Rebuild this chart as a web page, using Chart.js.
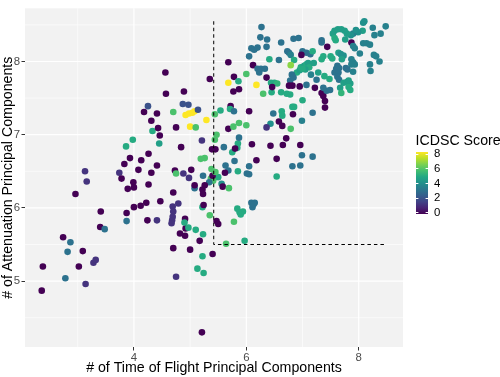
<!DOCTYPE html>
<html><head><meta charset="utf-8">
<script src="https://cdn.jsdelivr.net/npm/chart.js@4.4.1/dist/chart.umd.min.js"></script>
<style>html,body{margin:0;padding:0;background:#fff;overflow:hidden}</style>
</head><body>
<canvas id="c" width="500" height="377"></canvas>
<script>
// x: # of Time of Flight Principal Components
const tofPCs = [
 2.36,2.38,2.74,2.87,2.82,2.78,3.02,3.09,3.14,3.28,
 3.32,2.96,3.13,3.16,3.41,3.40,3.48,3.87,3.87,3.74,
 3.78,3.83,3.89,3.93,3.99,4.00,4.00,4.12,4.22,4.08,
 4.13,4.26,4.26,4.24,4.41,4.31,4.41,4.47,3.86,3.98,
 4.33,4.45,4.18,4.25,4.31,4.41,4.43,4.46,4.56,4.57,
 4.70,4.75,4.89,4.87,4.97,4.84,4.73,4.75,4.70,4.69,
 4.70,4.69,4.68,4.67,4.79,4.70,4.75,4.82,4.91,4.91,
 4.92,4.90,4.97,4.88,4.98,4.92,4.98,
 5.02,5.04,5.08,5.00,5.10,5.14,5.29,5.35,5.44,5.54,
 5.68,5.68,5.78,5.86,5.77,5.87,5.72,5.71,5.78,5.68,
 5.77,5.87,6.00,5.47,5.44,5.21,5.60,5.39,5.45,5.85,
 5.84,5.75,5.79,5.63,5.68,5.85,5.19,5.26,5.38,5.44,
 5.50,5.37,5.41,5.56,5.58,5.69,5.34,5.23,5.40,5.08,
 5.08,5.22,5.26,5.23,5.22,5.24,5.35,5.47,5.50,5.64,
 5.97,5.84,5.88,5.94,5.90,5.78,5.10,5.23,5.17,5.00,
 5.40,5.22,5.13,5.24,5.21,5.62,5.45,5.87,5.80,
 6.05,6.48,6.63,6.64,6.82,6.83,7.18,7.40,6.99,6.79,
 6.58,6.64,6.43,6.36,6.71,6.10,6.43,6.65,6.96,6.18,
 6.54,6.99,7.18,6.82,6.96,6.05,6.01,6.05,6.54,6.09,
 6.15,6.11,6.13,
 6.27,6.25,6.37,6.36,6.09,6.14,6.20,6.05,6.62,6.84,
 6.93,6.73,6.76,6.79,7.00,7.07,7.14,7.18,7.34,7.34,
 7.44,6.41,6.58,6.85,6.98,6.79,6.12,6.20,6.23,6.26,
 6.33,6.00,6.36,6.44,6.50,6.55,6.18,6.30,6.45,6.62,
 6.46,6.90,6.95,6.97,7.03,7.07,7.10,7.12,7.05,7.00,
 6.81,6.78,6.84,6.76,6.82,6.95,7.07,7.22,7.34,7.37,
 6.78,6.72,7.00,6.85,8.08,8.10,8.25,8.48,8.39,8.28,
 8.07,7.99,7.90,7.95,7.86,7.79,7.75,7.69,7.63,7.57,
 7.54,7.57,7.59,7.87,7.90,7.93,7.76,8.08,8.14,8.20,
 8.02,8.27,8.31,8.37,7.64,7.68,7.73,7.70,7.50,7.53,
 7.37,7.34,7.87,7.90,7.93,7.87,7.62,7.65,7.60,7.57,
 7.64,7.77,7.80,7.90,8.20,8.21,7.39,7.48,7.62,7.65,
 7.73,7.79,7.85,7.82,7.82,7.85,7.67,7.69,7.37,7.43,
 7.49,7.40,7.15,7.25,7.28,7.20
];
// y: # of Attenuation Principal Components
const attenuationPCs = [
 4.87,5.20,5.60,5.53,5.40,5.04,5.20,5.41,4.96,5.25,
 5.29,6.19,6.50,6.36,5.95,5.74,5.71,5.82,5.93,6.48,
 6.40,6.60,6.26,6.68,6.35,6.28,6.01,6.03,6.07,6.52,
 6.65,6.74,6.32,5.83,5.83,6.48,6.58,6.09,6.84,6.93,
 7.05,6.88,7.31,7.39,7.19,7.29,7.09,6.99,7.85,7.56,
 7.31,7.10,7.59,7.42,7.41,6.83,6.51,6.47,6.21,6.02,
 5.95,5.88,5.83,5.79,6.06,5.45,5.06,5.65,5.62,5.85,
 5.72,5.80,5.73,6.47,6.41,7.27,7.29,
 6.52,7.30,7.32,7.11,7.10,7.34,7.20,7.76,7.28,7.33,
 7.99,7.71,7.79,7.73,7.59,7.62,7.39,7.35,7.32,7.08,
 7.11,7.16,7.13,7.00,6.93,6.92,6.83,6.80,6.80,6.88,
 6.82,6.76,6.64,6.58,6.51,6.50,6.67,6.68,6.53,6.42,
 6.42,6.40,6.37,6.33,6.29,6.27,6.35,6.44,6.44,6.27,
 6.31,6.25,6.31,6.19,6.01,6.04,5.90,5.82,5.78,5.51,
 5.55,5.99,5.94,5.95,5.91,5.81,5.70,5.64,5.55,5.43,
 5.37,5.34,5.17,5.11,4.30,6.48,6.49,6.96,6.81,
 7.32,7.29,7.32,7.26,7.38,7.28,7.30,7.37,7.19,7.08,
 7.18,7.12,7.15,7.10,6.95,6.87,6.85,6.86,6.86,6.65,
 6.67,6.72,6.70,6.57,6.58,6.57,6.47,6.46,6.43,6.07,
 6.07,6.01,6.05,
 8.47,8.33,8.30,8.20,8.18,8.16,8.19,8.07,8.26,8.31,
 8.32,8.14,8.12,8.09,8.14,8.12,8.10,8.14,8.29,8.26,
 8.20,8.03,8.02,8.02,8.09,7.95,7.95,7.90,7.85,7.90,
 7.90,7.83,7.78,7.71,7.71,7.70,7.68,7.56,7.58,7.58,
 7.65,7.85,7.88,7.92,7.94,7.96,7.98,7.92,7.89,7.90,
 7.82,7.74,7.78,7.67,7.67,7.66,7.68,7.64,7.57,7.53,
 7.55,7.56,7.47,7.38,8.53,8.55,8.46,8.48,8.38,8.36,
 8.42,8.40,8.38,8.43,8.36,8.38,8.42,8.44,8.44,8.42,
 8.38,8.32,8.29,8.26,8.21,8.18,8.30,8.25,8.25,8.23,
 8.11,8.09,8.07,8.00,8.12,8.10,8.08,8.03,8.07,8.04,
 8.07,8.03,8.03,7.99,7.96,7.96,7.94,7.91,7.90,7.85,
 7.85,7.91,7.89,7.86,7.96,7.87,7.80,7.76,7.79,7.75,
 7.71,7.72,7.70,7.74,7.65,7.61,7.64,7.57,7.64,7.60,
 7.61,7.46,7.82,7.75,7.85,7.98
];
// colour: ICDSC Score
const icdscScores = [
 0,0,0,3,3,3,0,0,1.2,1.2,
 1.2,0,1.2,1.2,0,0,3,3,0,1.2,
 0,0,0,0,0,0,0,0,0,0,
 0,0,0,0,1.2,0,0,0,4.9,4.9,
 4.9,4.5,0,2,0,0,0,0,0,0,
 5.7,0,0,2,2,0,0,5.7,0,1.2,
 1.2,1.2,1.2,1.2,1.2,0,1.2,0,0,0,
 0,4.9,4.9,1.2,1.2,8,8,
 0,8,8,8,5.7,2,8,0,5.7,4.9,
 0,8,0,4.9,0,0,0,4.9,3,0,
 5.7,5.7,5.7,5.7,5.7,1.2,3,0,0,4.9,
 4.9,4.9,3,3,3,4.9,5.7,5.7,5.7,0,
 4.9,5.7,5.7,4,0,5.7,3,3,0,3,
 0,0,0,0,4.9,0,5.7,0,0,5.7,
 4.9,4.9,4.9,4.9,4.9,5.7,4.9,4.9,0,0,
 0,4.9,4.9,4.9,0,0,5.7,3,0,
 0,3,4.9,4.9,4.9,0,3,0,3.5,5.7,
 0,0,4,1.2,0,0,0,0,0,0,
 0,3,3,3,3,3,3,3,4.9,3,
 3,3,3,
 3,3,3,3,3,3,3,3,3,3,
 3,3,3,3.5,3,3,3,4.9,3,3,
 0,4.9,3,4.9,0,6.6,0,3,3,3,
 3,5.7,0,4.9,4.9,5.2,8,5.7,4.9,4.9,
 0,4.9,4.5,4.9,4.5,4.9,4.5,4.9,4.5,4.9,
 3,3,3,0,0,0,3,0,0,0,
 4.9,4.9,4.9,4.9,4,4,3.5,3.5,3.5,3.5,
 4.5,4,3.5,4,4,4.5,4.5,4.5,4.5,4.5,
 4.5,4.9,4.9,0,3.5,3.5,4.5,3.5,3.5,3.5,
 3.5,3.5,3.5,3.5,4.5,4,4,4.5,4.9,4.9,
 4.9,4.9,3.5,3.5,3.5,3.5,3,3,3,3,
 3,3,3,3.5,3.5,3.5,4.9,4.9,3,3,
 4.5,4.5,4.5,4.5,4.9,4.9,4.5,5.2,3,3,
 3,0,3.5,3,4.5,4.5
];
// dashed cut-off guide
const cutoffX = [5.42, 5.42, 8.5];
const cutoffY = [8.55, 5.5, 5.5];
// axis ticks / grid
const xMajor = [4, 6, 8];
const xMinor = [3, 5, 7];
const yMajor = [5, 6, 7, 8];
const yMinor = [4.5, 5.5, 6.5, 7.5, 8.5];
const legendTicks = [0, 2, 4, 6, 8];
const scoreRange = [0, 8];

const VIR = ['#440154','#482475','#414487','#355f8d','#2a788e','#21918c','#22a884','#44bf70','#7ad151','#bddf26','#fde725'];
function hex(h){return [parseInt(h.slice(1,3),16),parseInt(h.slice(3,5),16),parseInt(h.slice(5,7),16)];}
function viridis(t){
  t = Math.max(0, Math.min(1, t));
  const p = t * 10, i = Math.min(9, Math.floor(p)), f = p - i;
  const a = hex(VIR[i]), b = hex(VIR[i+1]);
  const c = a.map((v,k)=>Math.round(v + (b[k]-v)*f));
  return 'rgb(' + c.join(',') + ')';
}
const colorFor = s => viridis((s - scoreRange[0]) / (scoreRange[1] - scoreRange[0]));

const FONT = "'Liberation Sans', Arial, sans-serif";

const panelPlugin = {
  id: 'panel',
  beforeDraw(chart) {
    const {ctx, chartArea: a, scales: {x, y}} = chart;
    ctx.save();
    ctx.fillStyle = '#f2f2f2';
    ctx.fillRect(a.left, a.top, a.right - a.left, a.bottom - a.top);
    ctx.strokeStyle = '#ffffff';
    const vline = (v, w) => { const px = x.getPixelForValue(v); ctx.lineWidth = w; ctx.beginPath(); ctx.moveTo(px, a.top); ctx.lineTo(px, a.bottom); ctx.stroke(); };
    const hline = (v, w) => { const py = y.getPixelForValue(v); ctx.lineWidth = w; ctx.beginPath(); ctx.moveTo(a.left, py); ctx.lineTo(a.right, py); ctx.stroke(); };
    xMinor.forEach(v => vline(v, 0.6));
    yMinor.forEach(v => hline(v, 0.6));
    xMajor.forEach(v => vline(v, 1.2));
    yMajor.forEach(v => hline(v, 1.2));
    ctx.restore();
  },
  afterDraw(chart) {
    const {ctx} = chart;
    ctx.save();
    // legend title
    ctx.fillStyle = '#000';
    ctx.font = '14.2px ' + FONT;
    ctx.textAlign = 'left';
    ctx.textBaseline = 'alphabetic';
    ctx.fillText('ICDSC Score', 415.5, 145);
    // colour bar
    const bx = 416, bw = 12, btop = 152, bbot = 214;
    const g = ctx.createLinearGradient(0, bbot, 0, btop);
    VIR.forEach((c, i) => g.addColorStop(i / (VIR.length - 1), c));
    ctx.fillStyle = g;
    ctx.fillRect(bx, btop, bw, bbot - btop);
    const inset = (bbot - btop) * 0.025;
    const ty = v => bbot - inset - (v - scoreRange[0]) / (scoreRange[1] - scoreRange[0]) * (bbot - btop - 2 * inset);
    ctx.strokeStyle = '#ffffff';
    ctx.lineWidth = 1;
    ctx.font = '11.4px ' + FONT;
    ctx.fillStyle = '#000';
    legendTicks.forEach(v => {
      const py = Math.round(ty(v)) + 0.5;
      ctx.beginPath(); ctx.moveTo(bx, py); ctx.lineTo(bx + 2.4, py); ctx.moveTo(bx + bw - 2.4, py); ctx.lineTo(bx + bw, py); ctx.stroke();
      ctx.textBaseline = 'middle';
      ctx.fillText(String(v), 434, ty(v) + 0.5);
    });
    ctx.restore();
  }
};

const pointData = tofPCs.map((v, i) => ({x: v, y: attenuationPCs[i]}));
const pointColors = icdscScores.map(colorFor);
const cutoffData = cutoffX.map((v, i) => ({x: v, y: cutoffY[i]}));

new Chart(document.getElementById('c'), {
  type: 'scatter',
  data: {
    datasets: [
      {
        type: 'line',
        label: 'cutoff',
        data: cutoffData,
        borderColor: '#000',
        borderWidth: 1,
        borderDash: [3.5, 3],
        pointRadius: 0,
        fill: false,
        tension: 0
      },
      {
        label: 'patients',
        data: pointData,
        pointBackgroundColor: pointColors,
        pointBorderColor: pointColors,
        pointBorderWidth: 0,
        pointRadius: 3.3,
        pointHoverRadius: 3.3
      }
    ]
  },
  options: {
    responsive: false,
    animation: false,
    devicePixelRatio: 1,
    layout: {padding: {left: 0, right: 97, top: 1, bottom: 0}},
    plugins: {legend: {display: false}, tooltip: {enabled: false}},
    scales: {
      x: {
        type: 'linear',
        min: 2.062, max: 8.788,
        afterFit(s) { s.height = 30; },
        border: {display: false},
        grid: {drawOnChartArea: false, drawTicks: true, tickLength: 3.5, tickColor: '#333333', tickWidth: 1},
        ticks: {stepSize: 2, includeBounds: false, color: '#4d4d4d', font: {family: FONT, size: 11.4}, padding: 1, maxRotation: 0},
        title: {display: true, text: '# of Time of Flight Principal Components', color: '#000', font: {family: FONT, size: 14.2, lineHeight: 1.2}, padding: 0}
      },
      y: {
        type: 'linear',
        min: 4.10, max: 8.726,
        afterFit(s) { s.width = 25; },
        border: {display: false},
        grid: {drawOnChartArea: false, drawTicks: true, tickLength: 3.5, tickColor: '#333333', tickWidth: 1},
        ticks: {stepSize: 1, includeBounds: false, color: '#4d4d4d', font: {family: FONT, size: 11.4}, padding: 1.5},
        title: {display: true, text: '# of Attenuation Principal Components', color: '#000', font: {family: FONT, size: 14.2, lineHeight: 1.2}, padding: 0}
      }
    }
  },
  plugins: [panelPlugin]
});
</script>
</body></html>
